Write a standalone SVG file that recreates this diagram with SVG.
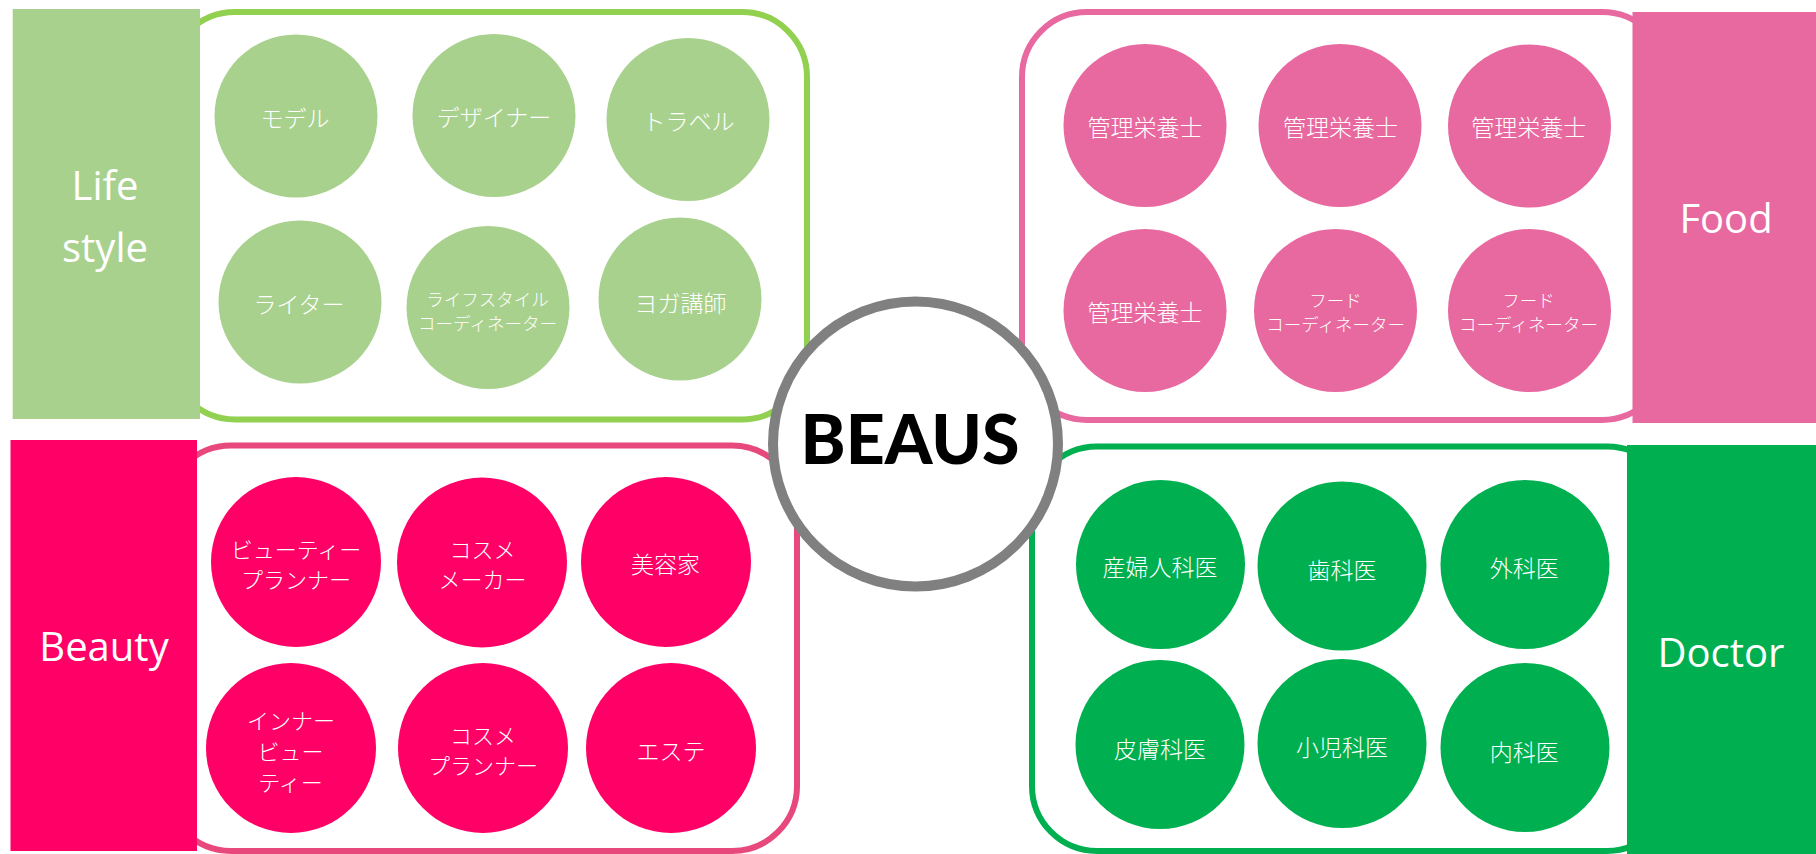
<svg xmlns="http://www.w3.org/2000/svg" width="1816" height="854" viewBox="0 0 1816 854">
<style>
.box{fill:#FFFFFF;stroke-width:6}
.jp{font-family:"Noto Sans CJK JP","Noto Sans",sans-serif;font-weight:300;fill:#FFFFFF;text-anchor:middle;font-size:23px}
.jpm{font-family:"Noto Sans CJK JP","Noto Sans",sans-serif;font-weight:300;fill:#FFFFFF;text-anchor:middle;font-size:22px}
.jps{font-family:"Noto Sans CJK JP","Noto Sans",sans-serif;font-weight:300;fill:#FFFFFF;text-anchor:middle;font-size:17.5px}
.lab{font-family:"Open Sans","Noto Sans",sans-serif;fill:#FFFFFF;text-anchor:middle;font-size:40px}
.life{fill:#A9D18E}
.food{fill:#E8699F}
.beauty{fill:#FF0066}
.doctor{fill:#00B050}
</style>
<rect width="1816" height="854" fill="#FFFFFF"/>

<g id="lifestyle-group">
  <rect class="box" x="170" y="12" width="637" height="407.5" rx="65" stroke="#92D050"/>
  <rect class="life" x="12.7" y="9" width="187.3" height="410"/>
  <text class="lab" x="105" y="200">Life<tspan x="105" y="262">style</tspan></text>
</g>
<g id="food-group">
  <rect class="box" x="1022" y="12" width="645" height="408" rx="65" stroke="#E8699F"/>
  <rect class="food" x="1632.5" y="12" width="183.5" height="411"/>
  <text class="lab" x="1726" y="233">Food</text>
</g>
<g id="beauty-group">
  <rect class="box" x="166" y="445.5" width="631" height="405.5" rx="65" stroke="#E8497D"/>
  <rect class="beauty" x="10.5" y="440" width="186.5" height="411"/>
  <text class="lab" x="104" y="660.5">Beauty</text>
</g>
<g id="doctor-group">
  <rect class="box" x="1032" y="446.5" width="640" height="404.5" rx="65" stroke="#00B050"/>
  <rect class="doctor" x="1627" y="445" width="189" height="409"/>
  <text class="lab" x="1721" y="666.5">Doctor</text>
</g>

<g id="connectors"></g>

<g id="life-model"><circle class="life" cx="296" cy="116" r="81.5"/><text class="jp" x="295" y="126.5">モデル</text></g>
<g id="life-designer"><circle class="life" cx="494" cy="115.5" r="81.5"/><text class="jp" x="494" y="126">デザイナー</text></g>
<g id="life-travel"><circle class="life" cx="688" cy="119.5" r="81.5"/><text class="jp" x="688.5" y="129.5">トラベル</text></g>
<g id="life-writer"><circle class="life" cx="300" cy="302" r="81.5"/><text class="jp" x="299" y="312.5">ライター</text></g>
<g id="life-coordinator"><circle class="life" cx="488" cy="307.5" r="81.5"/><text class="jps" x="487.5" y="306">ライフスタイル<tspan x="487.5" y="329.5">コーディネーター</tspan></text></g>
<g id="life-yoga"><circle class="life" cx="680" cy="299" r="81.5"/><text class="jp" x="680.5" y="311.5">ヨガ講師</text></g>

<g id="food-1"><circle class="food" cx="1145" cy="125.5" r="81.5"/><text class="jp" x="1145" y="136">管理栄養士</text></g>
<g id="food-2"><circle class="food" cx="1340" cy="125.5" r="81.5"/><text class="jp" x="1340.5" y="136">管理栄養士</text></g>
<g id="food-3"><circle class="food" cx="1529.5" cy="126" r="81.5"/><text class="jp" x="1528.7" y="136">管理栄養士</text></g>
<g id="food-4"><circle class="food" cx="1145" cy="310.5" r="81.5"/><text class="jp" x="1145" y="321">管理栄養士</text></g>
<g id="food-5"><circle class="food" cx="1335.5" cy="310.5" r="81.5"/><text class="jps" x="1335.6" y="307.2">フード<tspan x="1335.6" y="330.7">コーディネーター</tspan></text></g>
<g id="food-6"><circle class="food" cx="1529.5" cy="310.5" r="81.5"/><text class="jps" x="1528.5" y="307.2">フード<tspan x="1528.5" y="330.7">コーディネーター</tspan></text></g>

<g id="beauty-1"><circle class="beauty" cx="296" cy="562" r="85"/><text class="jpm" x="296" y="557.6">ビューティー<tspan x="296" y="587.6">プランナー</tspan></text></g>
<g id="beauty-2"><circle class="beauty" cx="482" cy="562.5" r="85"/><text class="jpm" x="482.5" y="558.1">コスメ<tspan x="482.5" y="588.1">メーカー</tspan></text></g>
<g id="beauty-3"><circle class="beauty" cx="666" cy="562" r="85"/><text class="jp" x="665.5" y="572.5">美容家</text></g>
<g id="beauty-4"><circle class="beauty" cx="291" cy="748" r="85"/><text class="jpm" x="291" y="729.1">インナー<tspan x="290.5" y="760.1">ビュー</tspan><tspan x="290.5" y="791.1">ティー</tspan></text></g>
<g id="beauty-5"><circle class="beauty" cx="483" cy="748" r="85"/><text class="jpm" x="483" y="744.1">コスメ<tspan x="483" y="774.1">プランナー</tspan></text></g>
<g id="beauty-6"><circle class="beauty" cx="671" cy="748" r="85"/><text class="jp" x="671" y="760">エステ</text></g>

<g id="doctor-1"><circle class="doctor" cx="1160.5" cy="564.5" r="84.5"/><text class="jp" x="1160" y="576">産婦人科医</text></g>
<g id="doctor-2"><circle class="doctor" cx="1342" cy="566" r="84.5"/><text class="jp" x="1342" y="578.5">歯科医</text></g>
<g id="doctor-3"><circle class="doctor" cx="1525" cy="564.5" r="84.5"/><text class="jp" x="1524.3" y="576.5">外科医</text></g>
<g id="doctor-4"><circle class="doctor" cx="1160" cy="744.5" r="84.5"/><text class="jp" x="1160" y="757.5">皮膚科医</text></g>
<g id="doctor-5"><circle class="doctor" cx="1342" cy="743.5" r="84.5"/><text class="jp" x="1342" y="756">小児科医</text></g>
<g id="doctor-6"><circle class="doctor" cx="1525" cy="747.5" r="84.5"/><text class="jp" x="1524.3" y="761">内科医</text></g>

<g id="beaus">
  <circle cx="915.5" cy="444" r="142.5" fill="#FFFFFF" stroke="#808080" stroke-width="10"/>
  <text x="910" y="464" font-family="Lato,'Liberation Sans',sans-serif" font-weight="900" font-size="68" fill="#000000" text-anchor="middle">BEAUS</text>
</g>
</svg>
